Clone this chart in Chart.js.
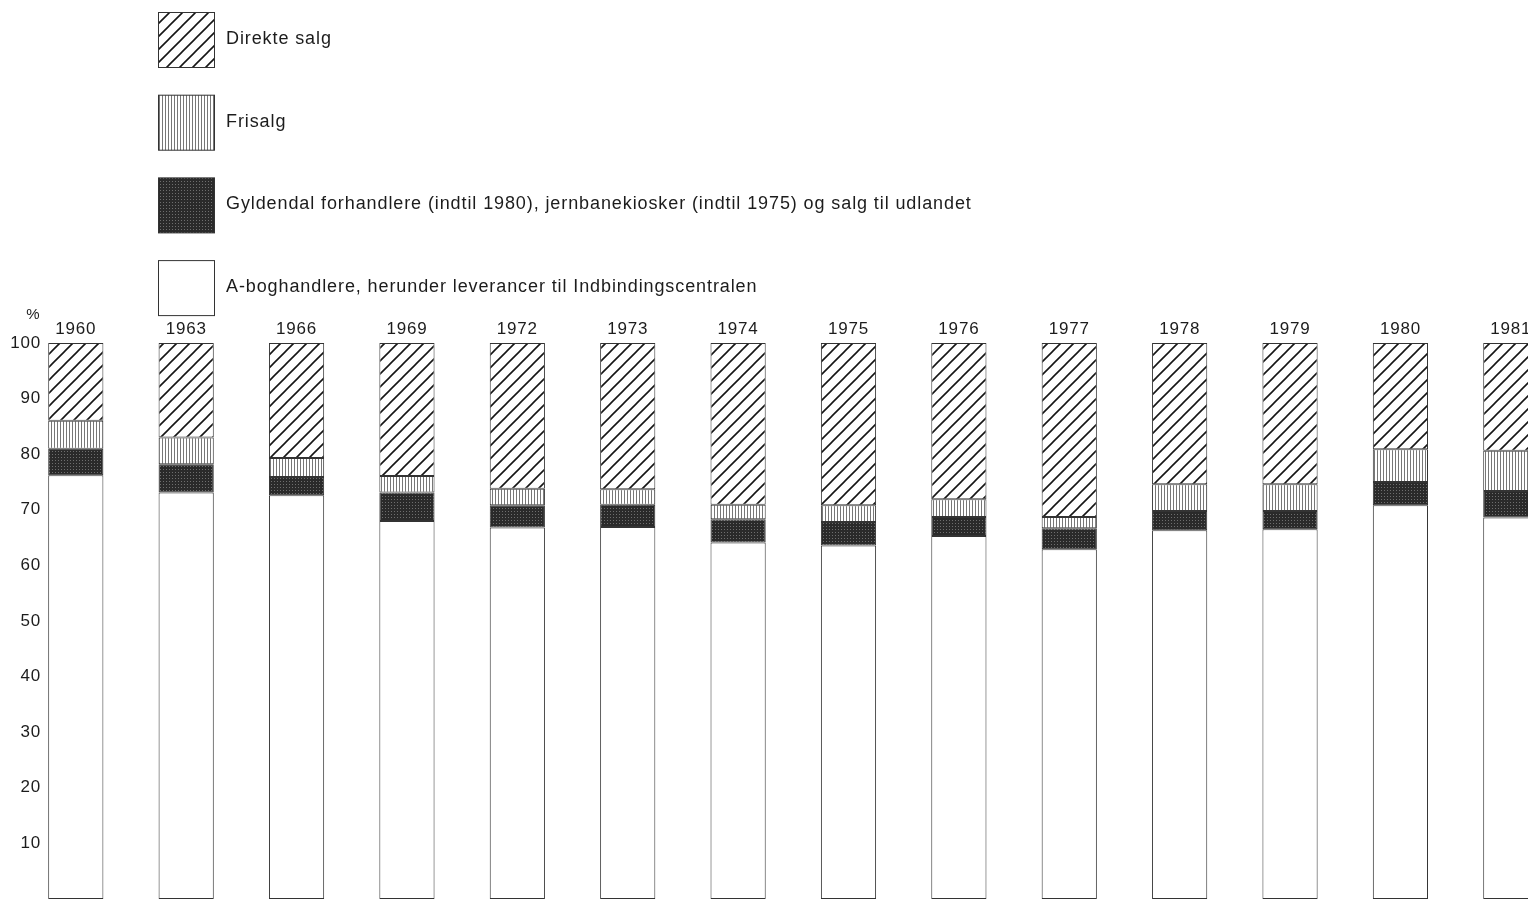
<!DOCTYPE html>
<html>
<head>
<meta charset="utf-8">
<script src="https://cdn.jsdelivr.net/npm/chart.js@4"></script>
<style>
  body { margin: 0; overflow: hidden; background: #fff; }
  #wrap { width: 1566px; height: 899px; }
</style>
</head>
<body>
<div id="wrap"><canvas id="salgChart" width="1566" height="899"></canvas></div>
<script>
// aar og andele i procent (aflaest fra figuren)
var years = ['1960', '1963', '1966', '1969', '1972', '1973', '1974', '1975', '1976', '1977', '1978', '1979', '1980', '1981'];
var aBoghandlere = [76.2, 73.1, 72.6, 68.0, 66.8, 66.9, 64.1, 63.6, 65.3, 62.9, 66.3, 66.5, 70.8, 68.6];
var gyldendal = [4.8, 5.1, 3.3, 5.1, 4.0, 4.0, 4.2, 4.2, 3.4, 3.8, 3.5, 3.3, 4.2, 4.8];
var frisalg = [5.0, 4.8, 3.4, 3.0, 3.0, 2.8, 2.6, 3.0, 3.2, 2.0, 4.8, 4.8, 5.9, 7.2];
var direkteSalg = [14.0, 17.0, 20.7, 23.9, 26.2, 26.3, 29.1, 29.2, 28.1, 31.3, 25.4, 25.4, 19.1, 19.4];

var labels = {
    direkte: 'Direkte salg',
    fri: 'Frisalg',
    gyld: 'Gyldendal forhandlere (indtil 1980), jernbanekiosker (indtil 1975) og salg til udlandet',
    aBog: 'A-boghandlere, herunder leverancer til Indbindingscentralen'
};

var ink = '#1c1c1c';
var font = '"Liberation Sans", Arial, Helvetica, sans-serif';

function makePattern(w, h, drawFn) {
    var c = document.createElement('canvas');
    c.width = w; c.height = h;
    var g = c.getContext('2d');
    g.fillStyle = '#fff';
    g.fillRect(0, 0, w, h);
    drawFn(g, w, h);
    return g.createPattern(c, 'repeat');
}

// skraa streger
var hatch = makePattern(13, 13, function (g, w, h) {
    g.strokeStyle = '#161616';
    g.lineWidth = 1.6;
    g.beginPath();
    g.moveTo(-2, h + 2); g.lineTo(w + 2, -2);
    g.moveTo(-2, 2); g.lineTo(2, -2);
    g.moveTo(w - 2, h + 2); g.lineTo(w + 2, h - 2);
    g.stroke();
});

// lodrette streger
var vlines = makePattern(3, 4, function (g) {
    g.fillStyle = '#777';
    g.fillRect(0, 0, 1, 4);
});

// moerk raster
var dark = makePattern(3, 3, function (g) {
    g.fillStyle = '#2a2a2a';
    g.fillRect(0, 0, 3, 3);
    g.fillStyle = '#6e6e6e';
    g.fillRect(1, 1, 1, 1);
});

var legendPlugin = {
    id: 'sideLegend',
    beforeDraw: function (chart) {
        chart.ctx.letterSpacing = '0.8px';
    },
    afterDraw: function (chart) {
        var ctx = chart.ctx;
        var ds = chart.data.datasets.slice().reverse();
        ctx.save();
        ctx.letterSpacing = '0.9px';
        ctx.font = '18px ' + font;
        ctx.textBaseline = 'middle';
        ctx.textAlign = 'left';
        for (let i = 0; i < ds.length; i++) {
            var top = 12 + i * 82.7;
            ctx.fillStyle = ds[i].backgroundColor;
            ctx.fillRect(158.5, top + 0.5, 56, 55);
            ctx.strokeStyle = '#333';
            ctx.lineWidth = 1;
            ctx.strokeRect(158.5, top + 0.5, 56, 55);
            ctx.fillStyle = ink;
            ctx.fillText(ds[i].label, 226, top + 27);
        }
        // procenttegn over y-aksen
        var y = chart.scales.y;
        ctx.letterSpacing = '0px';
        ctx.font = '15px ' + font;
        ctx.textAlign = 'center';
        ctx.fillText('%', 33, y.getPixelForValue(100) - 28);
        ctx.restore();
    }
};

var config = {
    type: 'bar',
    data: {
        labels: years,
        datasets: [
            { label: labels.aBog, data: aBoghandlere, backgroundColor: '#fff' },
            { label: labels.gyld, data: gyldendal, backgroundColor: dark },
            { label: labels.fri, data: frisalg, backgroundColor: vlines },
            { label: labels.direkte, data: direkteSalg, backgroundColor: hatch }
        ]
    },
    options: {
        responsive: false,
        animation: false,
        layout: { padding: { top: 319, left: 0, right: 0, bottom: 0 } },
        datasets: {
            bar: {
                borderColor: '#333',
                borderWidth: 1,
                borderSkipped: false,
                barPercentage: 0.5,
                categoryPercentage: 1.0
            }
        },
        plugins: {
            legend: { display: false },
            tooltip: { enabled: false }
        },
        scales: {
            x: {
                position: 'top',
                stacked: true,
                border: { display: false },
                grid: { display: false, drawTicks: false },
                ticks: { color: ink, font: { family: font, size: 17 }, padding: 3, maxRotation: 0, autoSkip: false },
                afterFit: function (s) { s.height = 24; s.paddingLeft = 0; s.paddingRight = 0; }
            },
            y: {
                stacked: true,
                min: 0,
                max: 100,
                border: { display: false },
                grid: { display: false, drawTicks: false },
                ticks: {
                    stepSize: 10,
                    color: ink,
                    mirror: true,
                    crossAlign: 'far',
                    padding: -8,
                    font: { family: font, size: 17 },
                    callback: function (v) { return v === 0 ? '' : v; }
                },
                afterFit: function (s) { s.width = 20.6; s.paddingTop = 0; s.paddingBottom = 0; }
            }
        }
    },
    plugins: [legendPlugin]
};

var salgChart = new Chart(document.getElementById('salgChart'), config);
</script>
</body>
</html>
